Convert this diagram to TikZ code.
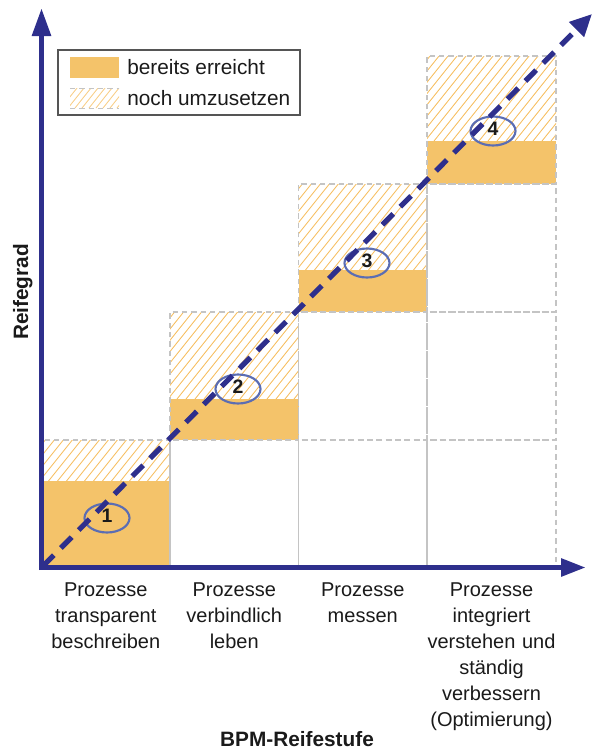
\documentclass[tikz,border=0pt]{standalone}
\usepackage{fontspec}
\setmainfont{Liberation Sans}
\usetikzlibrary{arrows.meta,shapes.geometric}
\definecolor{navy}{HTML}{2E2F8C}
\definecolor{orfill}{HTML}{F4C36A}
\definecolor{orhatch}{HTML}{F6BE60}
\definecolor{ellblue}{HTML}{5B6DB3}
\definecolor{gridgray}{HTML}{C4C4C4}
\definecolor{leggray}{HTML}{555555}
\definecolor{txt}{HTML}{1A1A1A}
\tikzset{
  axis/.style={navy, line width=4.2pt},
  diag/.style={navy, line width=3.9pt, dash pattern=on 11.5pt off 7.5pt,
    -{Triangle[length=16.5pt,width=15pt]}},
  gridcell/.style={gridgray, line width=0.9pt, dash pattern=on 4pt off 3pt},
  hatchline/.style={orhatch, line width=0.65pt},
  ringnode/.style={ellipse, draw=ellblue, line width=1.6pt, minimum width=33.75pt,
    minimum height=21.75pt, inner sep=0pt},
  numnode/.style={font=\bfseries\fontsize{14.6}{16}\selectfont, text=txt, inner sep=0pt},
  lab/.style={font=\fontsize{15}{19.5}\selectfont, text=txt, align=center,
    text width=110pt, anchor=base, inner sep=0pt},
  legtext/.style={font=\fontsize{15.6}{18}\selectfont, text=txt, anchor=base west, inner sep=0pt},
}
\begin{document}
\begin{tikzpicture}[x=0.75pt,y=-0.75pt]
\useasboundingbox (0,0) rectangle (594,751);
% staircase cells: orange + hatched
\foreach \xl/\xr/\yb/\yo/\yt in {41.5/170/567.5/481/440, 170/298.5/440/399/312,
    298.5/427/312/270/184, 427/556/184/141/56}{
  \fill[orfill] (\xl,\yb) rectangle (\xr,\yo);
  \begin{scope}
    \clip (\xl,\yo) rectangle (\xr,\yt);
    \foreach \s in {-110,-101,...,140}{
      \draw[hatchline] (\xl+\s,\yo) -- ++(100,-125);
    }
  \end{scope}
}
% dashed grid cells
\foreach \xl/\xr/\n in {41.5/170/1, 170/298.5/2, 298.5/427/3, 427/556/4}{
  \foreach \yb/\yt/\m in {567.5/440/1, 440/312/2, 312/184/3, 184/56/4}{
    \ifnum\m>\n\else
      \draw[gridcell] (\xl,\yb) rectangle (\xr,\yt);
    \fi
  }
}
% legend
\draw[leggray, line width=1pt] (58,50) rectangle (300,115);
\fill[orfill] (70,57) rectangle (119,78);
\begin{scope}
  \clip (70,88) rectangle (119,108);
  \foreach \s in {-30,-23,...,60}{
    \draw[hatchline, orhatch!75] (70+\s,108) -- ++(30,-37.5);
  }
\end{scope}
\draw[gridcell, line width=0.6pt] (70,88) -- (119,88) (70,108) -- (119,108);
\node[legtext] (leg1) at (127,74) {bereits erreicht};
\node[legtext] (leg2) at (127,105) {noch umzusetzen};
% ellipses
\node[ringnode] (e1) at (107,518) {};
\node[ringnode] (e2) at (238,389) {};
\node[ringnode] (e3) at (367,263) {};
\node[ringnode] (e4) at (493,131) {};
% axes
\coordinate (O) at (41.5,567.5);
\coordinate (ytip) at (41.5,8);
\coordinate (xtip) at (586,567.5);
\coordinate (dstart) at (43,566);
\coordinate (dtip) at (592,14);
\draw[diag] (dstart) -- (dtip);
\draw[axis, -{Triangle[length=21pt,width=13.5pt]}] (O) ++(0,2.5) -- (ytip);
\draw[axis, -{Triangle[length=18.75pt,width=12.75pt]}] (O) ++(-2.5,0) -- (xtip);
% numbers
\node[numnode] (n1) at ([yshift=1.5pt]e1.center) {1};
\node[numnode] (n2) at ([yshift=1.5pt]e2.center) {2};
\node[numnode] (n3) at ([yshift=1.5pt]e3.center) {3};
\node[numnode] (n4) at ([yshift=1.5pt]e4.center) {4};
% labels
\node[lab] (l1) at (105.75,596) {Prozesse\\transparent\\beschreiben};
\node[lab] (l2) at (234.25,596) {Prozesse\\verbindlich\\leben};
\node[lab] (l3) at (362.75,596) {Prozesse\\messen};
\node[lab] (l4) at (491.5,596) {Prozesse\\integriert\\verstehen und\\ständig\\verbessern\\(Optimierung)};
\node[font=\bfseries\fontsize{15.6}{18}\selectfont, text=txt, anchor=base, inner sep=0pt] (xlab) at (297,746) {BPM-Reifestufe};
\node[font=\bfseries\fontsize{15.6}{18}\selectfont, text=txt, anchor=base, inner sep=0pt, rotate=90] (ylab) at (28,292) {Reifegrad};
\end{tikzpicture}
\end{document}
